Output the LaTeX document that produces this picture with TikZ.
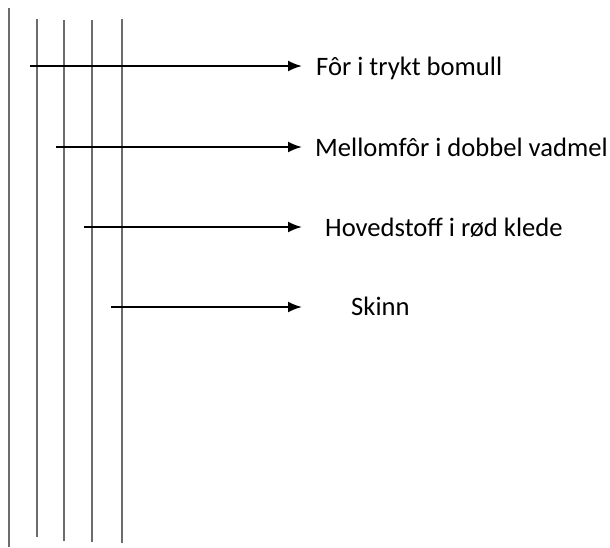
\documentclass[tikz,border=0pt]{standalone}
\usepackage{fontspec}
\setmainfont{Carlito}
\usetikzlibrary{arrows.meta}
\begin{document}
\begin{tikzpicture}[x=1pt,y=-1pt,>={Latex[length=14pt,width=11pt]},font=\fontsize{26.6}{30}\selectfont]
			\useasboundingbox (0,0) rectangle (610,547);
			\draw[line width=2.4pt,gray!85!black] (9,8)--(9,547);
			\draw[line width=2.4pt,gray!85!black] (37,19)--(37,537);
			\draw[line width=2.4pt,gray!85!black] (64,20)--(64,541);
			\draw[line width=2.4pt,gray!85!black] (92,20)--(92,542);
			\draw[line width=2.4pt,gray!85!black] (122,19)--(122,543);
			\coordinate (a1) at (30,66);
			\coordinate (a2) at (56,147);
			\coordinate (a3) at (84,227);
			\coordinate (a4) at (111,307);
			\coordinate (b1) at (302,66);
			\coordinate (b2) at (302,147);
			\coordinate (b3) at (302,227);
			\coordinate (b4) at (302,307);
			\node[anchor=base west,inner sep=0pt] (t1) at (316,75.5) {Fôr i trykt bomull};
			\node[anchor=base west,inner sep=0pt] (t2) at (315,156.5) {Mellomfôr i dobbel vadmel};
			\node[anchor=base west,inner sep=0pt] (t3) at (325,236) {Hovedstoff i rød klede};
			\node[anchor=base west,inner sep=0pt] (t4) at (351,315.5) {Skinn};
			\draw[->,line width=2pt] (a1)--(b1);
			\draw[->,line width=2pt] (a2)--(b2);
			\draw[->,line width=2pt] (a3)--(b3);
			\draw[->,line width=2pt] (a4)--(b4);
		\end{tikzpicture}
\end{document}
